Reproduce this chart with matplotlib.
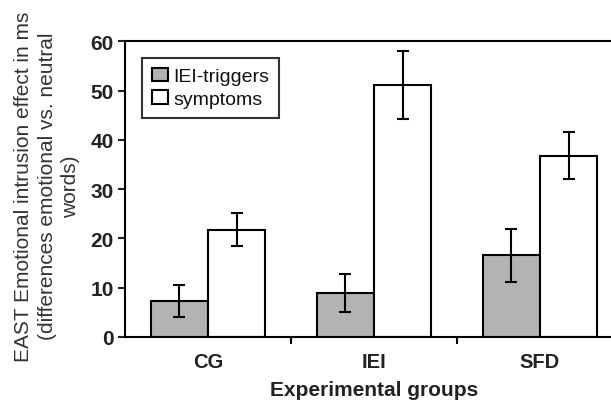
import matplotlib.pyplot as plt
import numpy as np

# -------------------------
# Data
# -------------------------

groups = ["CG", "IEI", "SFD"]

triggers = [7.3, 8.9, 16.6]
triggers_err = [3.3, 3.9, 5.4]

symptoms = [21.8, 51.2, 36.8]
symptoms_err = [3.4, 6.9, 4.7]

plt.rcParams["font.family"] = ["Liberation Sans", "DejaVu Sans"]

fig = plt.figure(figsize=(6.11, 4.02), dpi=100)
W, H = 611, 402
ax = fig.add_axes([125 / W, 1 - 338 / H, (623 - 125) / W, (338 - 42.3) / H])

x = np.arange(len(groups))
w = 0.345

ax.bar(x - w / 2, triggers, w, color="#b3b3b3", edgecolor="black",
       linewidth=1.5, label="IEI-triggers")
ax.bar(x + w / 2, symptoms, w, color="white", edgecolor="black",
       linewidth=1.5, label="symptoms")

ax.errorbar(x - w / 2, triggers, yerr=triggers_err, fmt="none",
            ecolor="black", elinewidth=1.5, capsize=4, capthick=1.5)
ax.errorbar(x + w / 2, symptoms, yerr=symptoms_err, fmt="none",
            ecolor="black", elinewidth=1.5, capsize=4, capthick=1.5)

ax.set_xlim(-0.5, 2.5)
ax.set_ylim(0, 60)
ax.set_yticks(range(0, 61, 10))

ax.set_xticks(x)
ax.set_xticklabels(groups, fontsize=14.5, color="#222222")
ax.set_xticks([0.5, 1.5], minor=True)
ax.tick_params(axis="x", which="major", length=0, pad=11)
ax.tick_params(axis="x", which="minor", length=5, width=1.5, direction="out")
ax.tick_params(axis="y", length=5, width=1.5, direction="out",
               labelsize=15, colors="#222222", pad=3)
for t in ax.get_yticklabels():
    t.set_fontweight("bold")
for t in ax.get_xticklabels():
    t.set_fontweight("bold")

for s in ["left", "bottom", "top"]:
    ax.spines[s].set_linewidth(1.5)
ax.spines["right"].set_visible(False)

ax.set_ylabel("EAST Emotional intrusion effect in ms\n(differences emotional vs. neutral\nwords)",
              fontsize=15, color="#333333", linespacing=1.3)
ax.yaxis.set_label_coords(-0.09, 0.512)
ax.set_xlabel("Experimental groups", fontsize=15, fontweight="bold",
              color="#222222", labelpad=6)

leg = ax.legend(loc="upper left", bbox_to_anchor=(0.034, 0.943),
                borderaxespad=0, fontsize=14, frameon=True, fancybox=False,
                edgecolor="black", handlelength=0.82, handleheight=0.7,
                borderpad=0.5, labelspacing=0.25, handletextpad=0.3)
leg.get_frame().set_linewidth(1.5)
for t in leg.get_texts():
    t.set_color("#111111")

fig.savefig("out.png", dpi=100)
plt.close()
